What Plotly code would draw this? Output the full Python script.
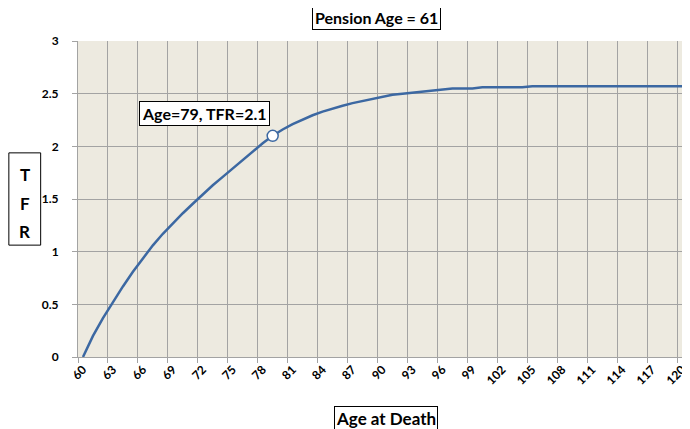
import plotly.graph_objects as go

# TFR needed for each age at death, pension age 61
ages = list(range(60, 121))
tfr = [0.00, 0.20, 0.37, 0.525, 0.67, 0.81, 0.94, 1.06, 1.17, 1.27,
       1.365, 1.455, 1.545, 1.63, 1.71, 1.79, 1.87, 1.95, 2.03, 2.10,
       2.16, 2.21, 2.255, 2.295, 2.33, 2.36, 2.385, 2.41, 2.43, 2.455,
       2.475, 2.49, 2.50, 2.51, 2.52, 2.53, 2.54, 2.55, 2.55, 2.55,
       2.56, 2.56, 2.56, 2.56, 2.56, 2.57, 2.57, 2.57, 2.57, 2.57,
       2.57, 2.57, 2.57, 2.57, 2.57, 2.57, 2.57, 2.57, 2.57, 2.57,
       2.57]
x_labels = list(range(60, 121, 3))
y_ticks = [0, 0.5, 1, 1.5, 2, 2.5, 3]
mark_age, mark_tfr = 79, 2.1

blue = '#3C68A2'
grid = '#A3A3A3'
font = 'Lato'

fig = go.Figure()
fig.add_trace(go.Scatter(x=ages, y=tfr, mode='lines',
                         line=dict(color=blue, width=2.5), hoverinfo='skip'))
fig.add_trace(go.Scatter(x=[mark_age], y=[mark_tfr], mode='markers',
                         marker=dict(size=11, color='white',
                                     line=dict(color=blue, width=1.5))))

# page body adds an 8px margin, so the figure is 8px smaller
fig.update_layout(
    width=682, height=421,
    margin=dict(l=70, r=0, t=33, b=72, autoexpand=False),
    plot_bgcolor='#EDEAE0', paper_bgcolor='white',
    showlegend=False,
    font=dict(family=font, color='black'),
)
fig.update_xaxes(
    range=[59.5, 120.8], automargin=False, ticklabeloverflow='allow',
    tickmode='array', tickvals=x_labels, ticktext=[str(v) for v in x_labels],
    tickangle=-45, tickfont=dict(size=12, family=font, weight='bold'),
    showgrid=False, ticks='', showline=True, linecolor=grid, linewidth=1,
    zeroline=False,
    minor=dict(tick0=59.5, dtick=3, showgrid=True, gridcolor=grid, gridwidth=1,
               ticks='outside', ticklen=5, tickcolor=grid),
)
fig.update_yaxes(
    range=[0, 3], automargin=False, tickmode='array', tickvals=y_ticks,
    ticktext=['0', '0.5', '1', '1.5', '2', '2.5', '3'],
    tickfont=dict(size=12, family=font, weight='bold'),
    showgrid=True, gridcolor=grid, gridwidth=1,
    ticks='outside', ticklen=5, tickcolor=grid,
    showline=True, linecolor=grid, linewidth=1, zeroline=False,
    ticklabelstandoff=11,
)

box = dict(bordercolor='black', borderwidth=1, bgcolor='white', showarrow=False,
           xanchor='center', yanchor='middle')
fig.add_annotation(text='<b>Pension Age = 61</b>', xref='paper', yref='paper',
                   x=0.487, y=1.073, font=dict(size=16), borderpad=2, **box)
fig.add_annotation(text='<b>Age=79, TFR=2.1</b>', xref='x', yref='y',
                   x=72.2, y=2.31, font=dict(size=16), borderpad=2, **box)
fig.add_annotation(text='<b>Age at Death</b>', xref='paper', yref='paper',
                   x=0.5025, y=-0.195, font=dict(size=17), borderpad=1, **box)

# stacked T F R y-axis title in a box
fig.add_shape(type='rect', xref='paper', yref='paper',
              x0=-0.113, x1=-0.061, y0=0.354, y1=0.646,
              line=dict(color='black', width=1), fillcolor='white')
for letter, yy in zip(['T', 'F', 'R'], [0.576, 0.487, 0.396]):
    fig.add_annotation(text='<b>%s</b>' % letter, xref='paper', yref='paper',
                       x=-0.087, y=yy, showarrow=False, xanchor='center',
                       yanchor='middle', font=dict(size=17))

fig.write_html("out.html")
